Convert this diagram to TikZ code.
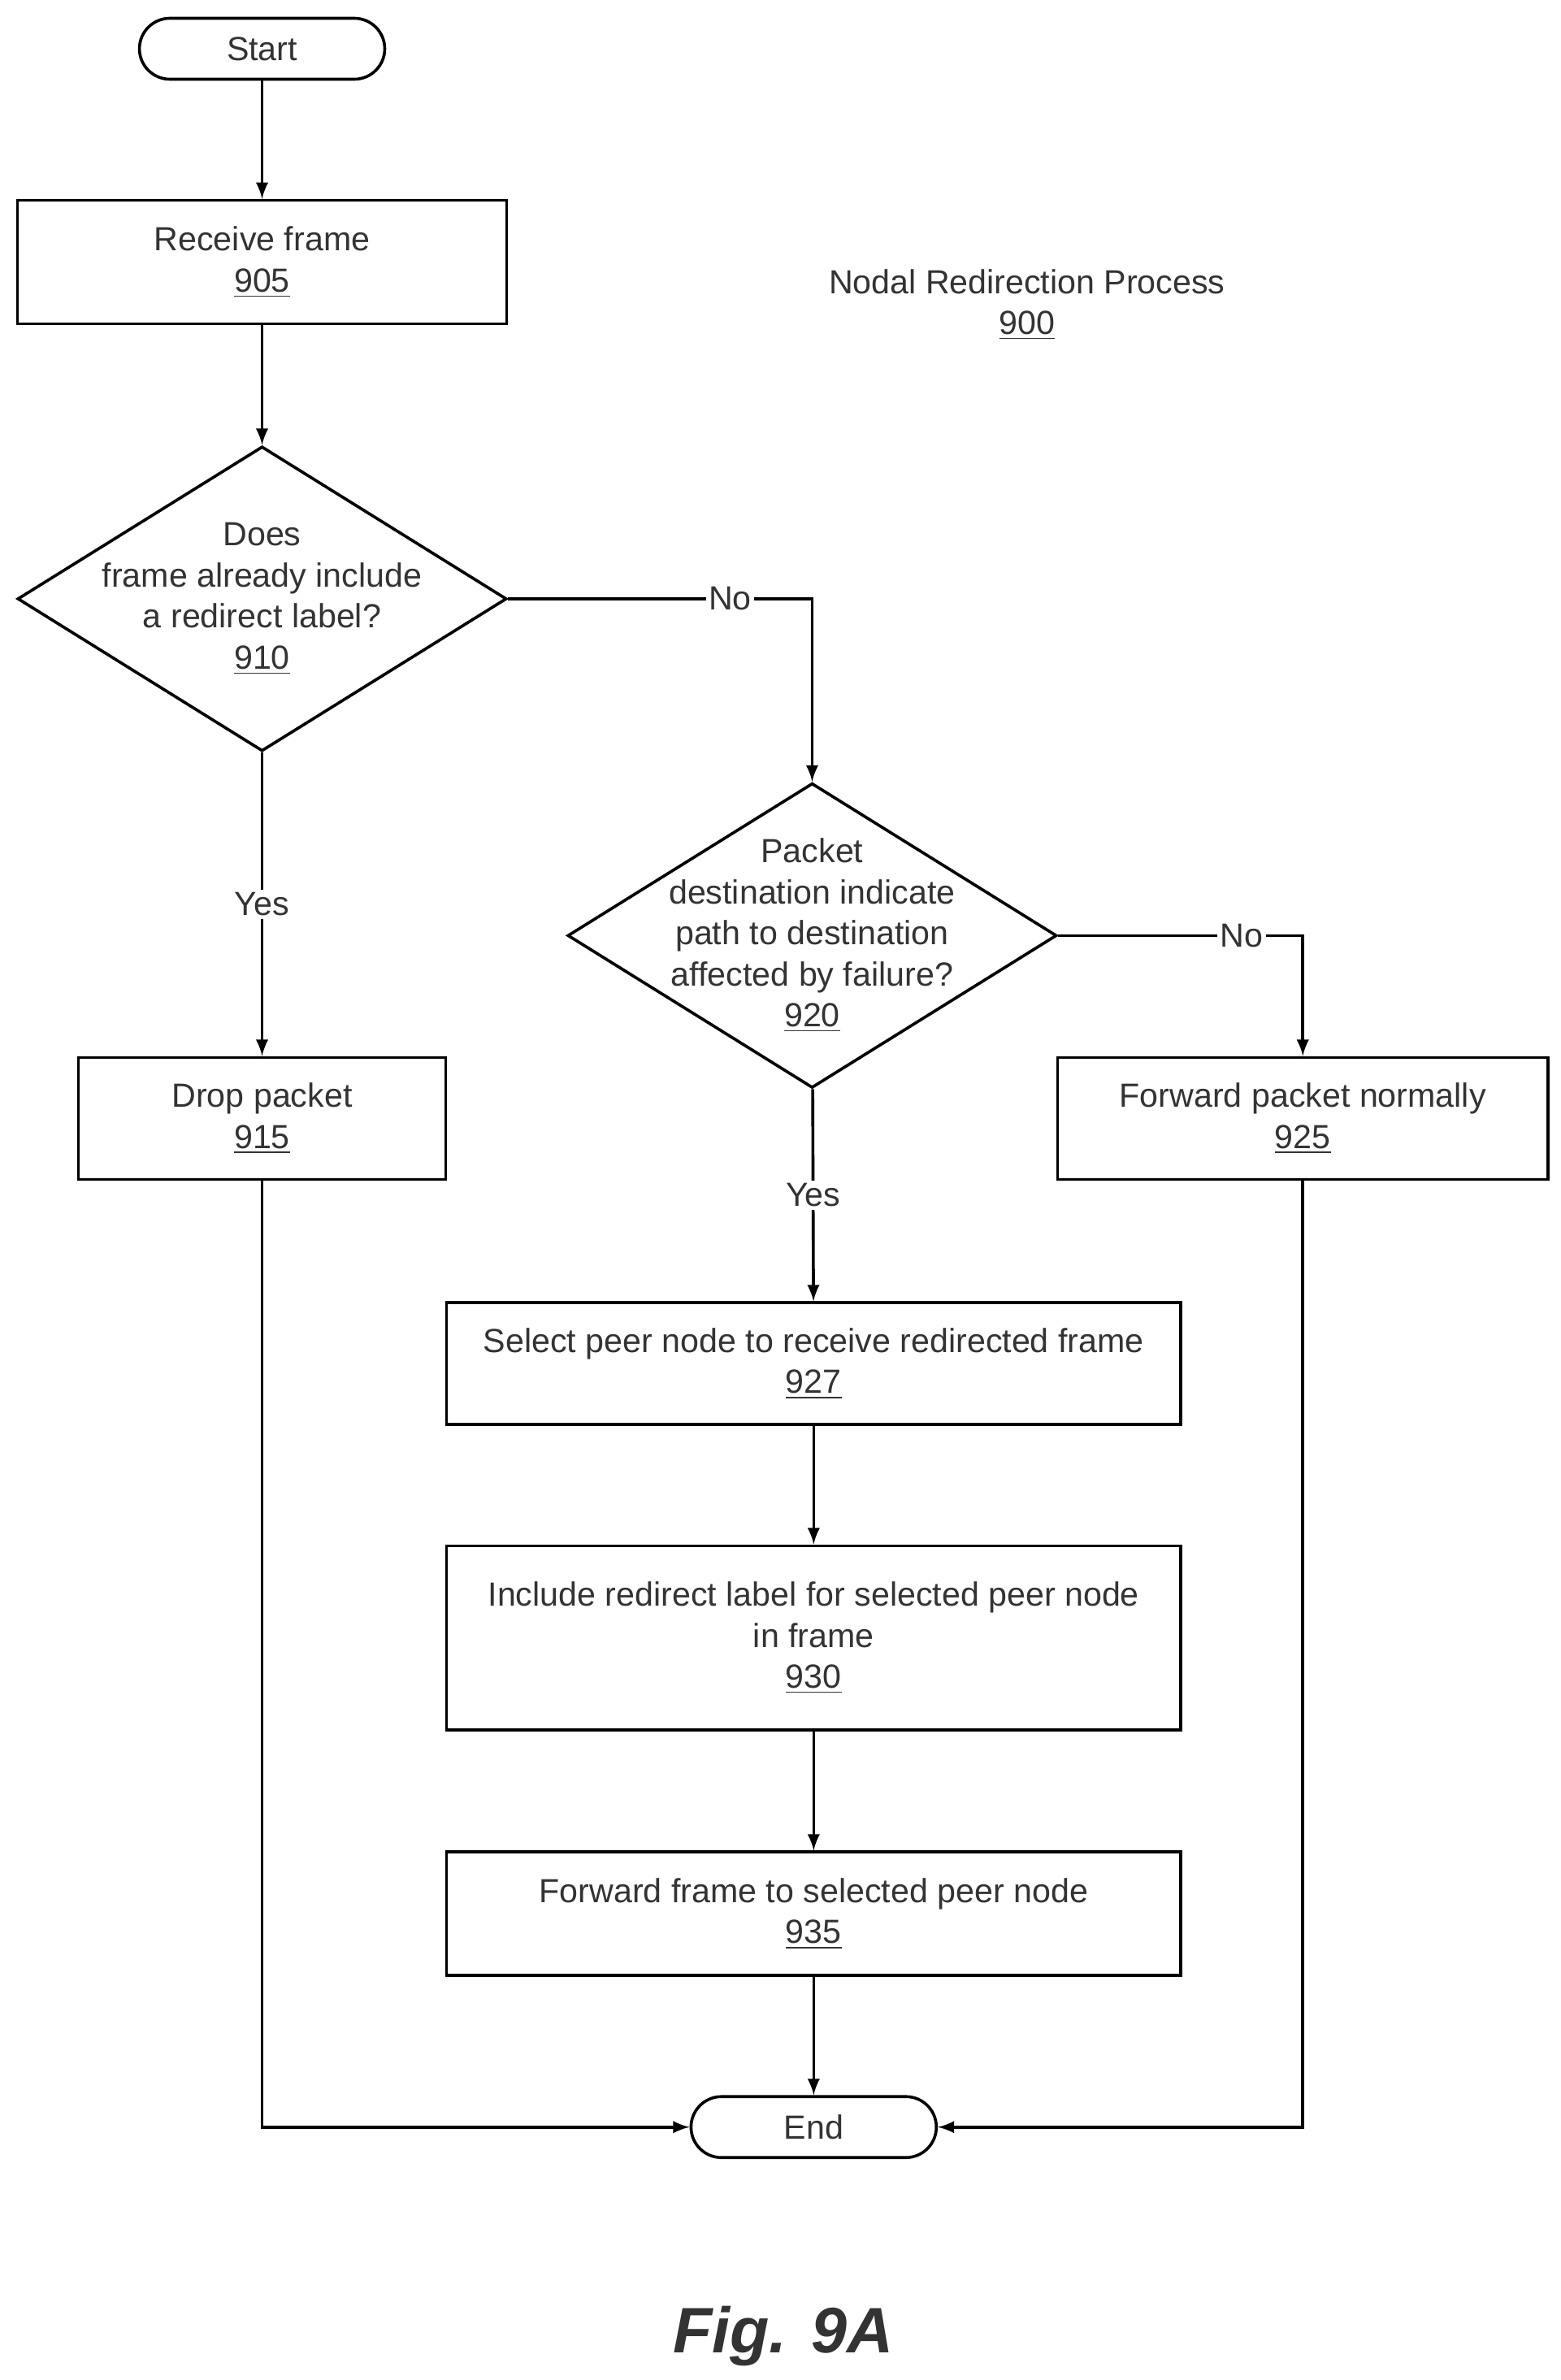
\documentclass[tikz,border=0pt]{standalone}
\usepackage{fontspec}
\setmainfont{Liberation Sans}
\usetikzlibrary{arrows,shapes.geometric}

\begin{document}
\begin{tikzpicture}[line width=1.1pt, every node/.style={font=\fontsize{12.5}{15.3}\selectfont, text=black!80}]
\tikzset{box/.style = {shape=rectangle, draw, align=center, inner sep=0pt}}
\tikzset{term/.style = {shape=rectangle, rounded corners=0.4cm, draw, minimum width=3.22cm, minimum height=0.8cm}}
\tikzset{decision/.style = {shape=diamond, draw, inner sep=0pt, minimum width=6.42cm, minimum height=4cm}}
\tikzset{edge/.style = {->, >=latex}}
\tikzset{tag/.style = {fill=white, inner sep=1pt}}
\useasboundingbox (0,0) rectangle (20.48,-31.24);
% main
\node[term] (start) at (3.44,-0.64) {Start};
\node[box, minimum width=6.42cm, minimum height=1.62cm] (receive) at (3.44,-3.44) {Receive frame\\\underline{905}};
\node[decision, label={[align=center]center:Does\\frame already include\\a redirect label?\\\underline{910}}] (hasredirect) at (3.44,-7.86) {};
\node[align=center] (title) at (13.48,-4.0) {Nodal Redirection Process\\\underline{900}};
\node[decision, label={[align=center]center:Packet\\destination indicate\\path to destination\\affected by failure?\\\underline{920}}] (affected) at (10.66,-12.28) {};
\node[box, minimum width=4.82cm, minimum height=1.6cm] (drop) at (3.44,-14.68) {Drop packet\\\underline{915}};
\node[box, minimum width=6.44cm, minimum height=1.6cm] (normal) at (17.10,-14.68) {Forward packet normally\\\underline{925}};
\node[box, minimum width=9.64cm, minimum height=1.6cm] (select) at (10.68,-17.90) {Select peer node to receive redirected frame\\\underline{927}};
\node[box, minimum width=9.64cm, minimum height=2.42cm] (include) at (10.68,-21.50) {Include redirect label for selected peer node\\in frame\\\underline{930}};
\node[box, minimum width=9.64cm, minimum height=1.62cm] (forward) at (10.68,-25.12) {Forward frame to selected peer node\\\underline{935}};
\node[term] (end) at (10.68,-27.92) {End};
\node[font=\fontsize{24}{28}\selectfont\bfseries\itshape] (fig) at (10.28,-30.66) {Fig. 9A};

%edges
\draw[edge] (start) -- (receive);
\draw[edge] (receive) -- (hasredirect);
\draw[edge] (hasredirect) -- node[tag] {Yes} (drop);
\draw[edge] (hasredirect.east) -- node[tag, pos=0.73] {No} (affected.north |- hasredirect.east) -- (affected.north);
\draw[edge] (affected.east) -- node[tag, pos=0.75] {No} (normal.north |- affected.east) -- (normal.north);
\draw[edge] (affected) -- node[tag] {Yes} (select);
\draw[edge] (select) -- (include);
\draw[edge] (include) -- (forward);
\draw[edge] (forward) -- (end);
\draw[edge] (drop.south) |- (end.west);
\draw[edge] (normal.south) |- (end.east);
\end{tikzpicture}
\end{document}
